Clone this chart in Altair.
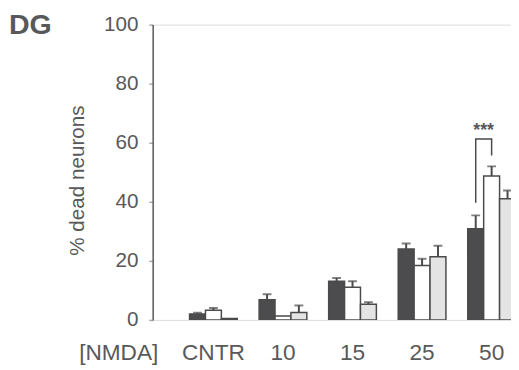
import altair as alt
import pandas as pd

groups = ["CNTR", "10", "15", "25", "50"]
series = ["S1", "S2", "S3"]
fills = ["#4c4c4e", "#ffffff", "#e4e4e4"]

mean_s1 = [2.0, 6.8, 13.1, 24.0, 30.9]
err_s1 = [0.4, 1.9, 1.1, 1.9, 4.5]
mean_s2 = [3.3, 1.3, 11.1, 18.4, 48.7]
err_s2 = [0.7, 0.0, 2.0, 2.3, 3.3]
mean_s3 = [0.5, 2.5, 5.3, 21.4, 41.0]
err_s3 = [0.0, 2.4, 0.7, 3.7, 2.8]

# significance bracket (group "50", S1 vs S2)
bracket_series = ["S1", "S1", "S2", "S2"]
bracket_y = [39.7, 61.3, 61.3, 55.7]
stars_y = 62.3

rows = []
for s, m, e in zip(series, [mean_s1, mean_s2, mean_s3], [err_s1, err_s2, err_s3]):
    for g, mv, ev in zip(groups, m, e):
        rows.append({"group": g, "series": s, "mean": mv, "err": ev, "upper": mv + ev})
df = pd.DataFrame(rows)
df_err = df[df["err"] > 0]

br = pd.DataFrame({"group": ["50"] * 4, "series": bracket_series, "mean": bracket_y, "ord": [0, 1, 2, 3]})
st = pd.DataFrame({"group": ["50"], "series": ["S1"], "mean": [stars_y], "label": ["***"]})

TXT = "#58595b"

xenc = alt.X(
    "group:N", sort=groups,
    scale=alt.Scale(range=[0, 406], paddingInner=0.314, paddingOuter=0.53),
    axis=alt.Axis(title="[NMDA]", domain=False, ticks=False, tickSize=0, labelAngle=0,
                  labelFontSize=23, labelColor=TXT, labelPadding=40, labelBaseline="alphabetic",
                  titleX=-35, titleY=40, titleAlign="center", titleBaseline="alphabetic",
                  titleFontSize=23, titleFontWeight="normal", titleColor=TXT),
)
xoff = alt.XOffset("series:N", sort=series, scale=alt.Scale(paddingInner=0, paddingOuter=0))


def yenc(field):
    return alt.Y(
        field, type="quantitative",
        scale=alt.Scale(domain=[0, 100], nice=False),
        axis=alt.Axis(title="% dead neurons", values=[0, 20, 40, 60, 80, 100], grid=False,
                      domainColor="#5a5a5a", domainWidth=1.5, tickSize=4, tickColor="#aaaaaa",
                      tickWidth=1.5, labelPadding=11, labelFontSize=21, labelColor=TXT,
                      titleFontSize=21, titleFontWeight="normal", titleColor=TXT,
                      titleX=-76, titleY=158, titleAlign="center", titleBaseline="middle"),
    )


bars = alt.Chart(df).mark_bar(stroke="#4a4a4a", strokeWidth=1.5, clip=True).encode(
    x=xenc, xOffset=xoff, y=yenc("mean"),
    fill=alt.Fill("series:N", sort=series, scale=alt.Scale(domain=series, range=fills), legend=None),
)
rules = alt.Chart(df_err).mark_rule(color="#4a4a4a", strokeWidth=2, clip=True).encode(
    x=xenc, xOffset=xoff, y=yenc("mean"), y2="upper:Q"
)
caps = alt.Chart(df_err).mark_tick(color="#4a4a4a", thickness=2, size=9, clip=True).encode(
    x=xenc, xOffset=xoff, y=yenc("upper")
)
bracket = alt.Chart(br).mark_line(color="#4a4a4a", strokeWidth=1.5).encode(
    x=xenc, xOffset=xoff, y=yenc("mean"), order="ord:Q"
)
stars = alt.Chart(st).mark_text(fontSize=18, fontWeight="bold", color=TXT, dx=8,
                                baseline="alphabetic", align="center").encode(
    x=xenc, xOffset=xoff, y=yenc("mean"), text="label:N"
)

chart = alt.layer(bars, rules, caps, bracket, stars).properties(
    width=364, height=300,
    padding={"left": 147, "top": 14, "right": 0, "bottom": 48},
    autosize=alt.AutoSizeParams(type="none"),
    title=alt.TitleParams("DG", anchor="start", frame="group", fontSize=29, fontWeight="bold",
                          color=TXT, dx=-146, dy=49.5, offset=0, baseline="alphabetic"),
).configure_view(stroke=None).configure(font="Liberation Sans")

chart.save("out.html", embed_options={"renderer": "svg", "actions": False})
